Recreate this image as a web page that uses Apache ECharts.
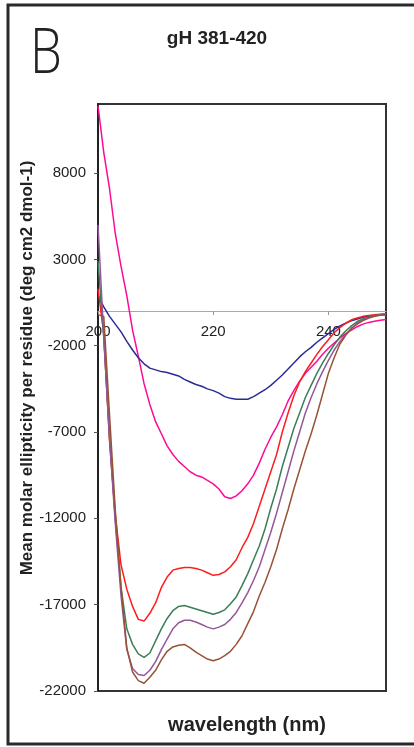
<!DOCTYPE html>
<html>
<head>
<meta charset="utf-8">
<script src="https://cdn.jsdelivr.net/npm/echarts@6/dist/echarts.min.js"></script>
<style>
  html, body { margin: 0; padding: 0; background: #fff; }
  #chart { width: 414px; height: 747px; }
</style>
</head>
<body>
<div id="chart"></div>
<script>
// wavelength (nm), 1 nm steps
var wavelengths = [200,201,202,203,204,205,206,207,208,209,210,211,212,213,214,215,216,217,218,219,220,
  221,222,223,224,225,226,227,228,229,230,231,232,233,234,235,236,237,238,239,240,
  241,242,243,244,245,246,247,248,249,250];

// tick values
var xTicks = [200, 220, 240];
var yTicks = [-22000, -17000, -12000, -7000, -2000, 3000, 8000];

// mean molar ellipticity per residue, one array per trace
var magentaVals = [11900,9200,7100,4500,2600,900,-1100,-2600,-4200,-5400,-6400,-7100,-7800,-8300,-8700,-9000,-9300,-9500,-9600,-9800,-10000,
  -10300,-10750,-10850,-10700,-10400,-10000,-9500,-8800,-8000,-7300,-6700,-6000,-5200,-4600,-4050,-3600,-3250,-2900,-2500,-2150,
  -1850,-1550,-1300,-1100,-900,-750,-650,-580,-520,-480];
var blueVals = [900,250,-300,-750,-1200,-1750,-2250,-2700,-3050,-3300,-3400,-3500,-3550,-3650,-3750,-3950,-4100,-4250,-4350,-4500,-4600,
  -4750,-4950,-5050,-5100,-5100,-5100,-4950,-4750,-4550,-4300,-4000,-3700,-3350,-3000,-2650,-2350,-2100,-1800,-1550,-1300,
  -1050,-850,-700,-550,-450,-350,-300,-250,-200,-200];
var redVals = [1300,-1300,-7500,-11800,-14700,-16100,-17100,-17850,-17950,-17500,-16900,-16000,-15400,-15000,-14900,-14850,-14850,-14900,-15000,-15150,-15300,
  -15250,-15100,-14800,-14400,-13700,-13100,-12300,-11300,-10300,-9300,-8300,-7000,-5900,-4900,-4100,-3500,-3000,-2500,-2050,-1650,
  -1250,-950,-700,-500,-400,-300,-250,-200,-180,-170];
var greenVals = [2900,-1500,-7200,-12000,-16000,-18400,-19300,-19850,-20050,-19800,-19100,-18400,-17800,-17350,-17100,-17050,-17150,-17250,-17350,-17450,-17550,
  -17450,-17300,-16950,-16550,-15900,-15200,-14400,-13600,-12600,-11400,-10300,-9000,-7900,-6800,-5900,-5000,-4300,-3600,-3000,-2450,
  -1950,-1500,-1150,-850,-600,-450,-350,-250,-200,-150];
var purpleVals = [5000,-1500,-7400,-12300,-16500,-19600,-20700,-21050,-21100,-20800,-20300,-19600,-19000,-18400,-18050,-17900,-17900,-18000,-18150,-18300,-18400,
  -18300,-18150,-17850,-17450,-16900,-16300,-15600,-14800,-13800,-12800,-11700,-10500,-9300,-8100,-7000,-5900,-5000,-4200,-3500,-2850,
  -2250,-1750,-1350,-1000,-700,-500,-380,-280,-200,-150];
var brownVals = [-200,-300,-6000,-11500,-16000,-19500,-20900,-21400,-21550,-21200,-20800,-20200,-19700,-19450,-19350,-19300,-19500,-19750,-19950,-20150,-20250,
  -20150,-19950,-19700,-19300,-18800,-18100,-17400,-16500,-15700,-14800,-13800,-12600,-11500,-10300,-9200,-8100,-7100,-6000,-4800,-3600,
  -2700,-1900,-1400,-1000,-750,-550,-400,-300,-230,-200];

var traces = [
  {vals: magentaVals, color: '#ff0a96'},
  {vals: blueVals,    color: '#2b2b95'},
  {vals: redVals,     color: '#ff1c1c'},
  {vals: greenVals,   color: '#3b7d58'},
  {vals: purpleVals,  color: '#94589a'},
  {vals: brownVals,   color: '#985236'}
];

var chart = echarts.init(document.getElementById('chart'));

function pairs(vals) {
  return wavelengths.map(function (w, i) { return [w, vals[i]]; });
}

var option = {
  animation: false,
  backgroundColor: '#fff',
  title: [{
    text: 'gH 381-420',
    left: 212, top: 24, textAlign: 'center',
    textStyle: { fontFamily: 'Liberation Sans', fontWeight: 'bold', fontSize: 19, color: '#222' }
  }, {
    text: 'wavelength (nm)',
    left: 242, top: 710, textAlign: 'center',
    textStyle: { fontFamily: 'Liberation Sans', fontWeight: 'bold', fontSize: 20, color: '#222' }
  }],
  graphic: [{
    type: 'rect',
    shape: { x: 8, y: 5, width: 430, height: 739 },
    style: { fill: 'none', stroke: '#2a2a2a', lineWidth: 3 },
    z: 0
  }, {
    type: 'text',
    x: 30, y: 24, scaleX: 0.82,
    style: {
      text: 'B', fill: '#222',
      font: '300 62px "Open Sans", "Noto Sans", sans-serif'
    }
  }, {
    type: 'text',
    x: 27, y: 368, rotation: Math.PI / 2,
    style: {
      text: 'Mean molar ellipticity per residue (deg cm2 dmol-1)',
      fill: '#222', font: 'bold 17px "Liberation Sans"',
      textAlign: 'center', textVerticalAlign: 'middle'
    }
  }],
  grid: {
    left: 98, right: 28, top: 104, bottom: 56,
    show: true, borderColor: '#333', borderWidth: 2, backgroundColor: 'transparent'
  },
  xAxis: {
    type: 'value', min: 200, max: 250,
    position: 'bottom', offset: -380,
    axisLine: { onZero: false, lineStyle: { color: '#aaa', width: 1 } },
    axisTick: { show: true, length: 4, customValues: xTicks, lineStyle: { color: '#999' } },
    axisLabel: {
      margin: 13, fontSize: 15, fontFamily: 'Liberation Sans', color: '#222',
      customValues: xTicks,
      formatter: function (v) { return String(v); }
    },
    splitLine: { show: false }
  },
  yAxis: {
    type: 'value', min: -22000, max: 12000,
    axisLine: { show: true, lineStyle: { color: '#222', width: 2 } },
    axisTick: { show: true, length: 4, customValues: yTicks, lineStyle: { color: '#555' } },
    axisLabel: {
      margin: 12, fontSize: 15, fontFamily: 'Liberation Sans', color: '#222',
      customValues: yTicks,
      formatter: function (v) { return String(v); }
    },
    splitLine: { show: false }
  },
  series: traces.map(function (t) {
    return {
      type: 'line',
      data: pairs(t.vals),
      showSymbol: false,
      lineStyle: { color: t.color, width: 1.5 },
      itemStyle: { color: t.color }
    };
  })
};

chart.setOption(option);
</script>
</body>
</html>
